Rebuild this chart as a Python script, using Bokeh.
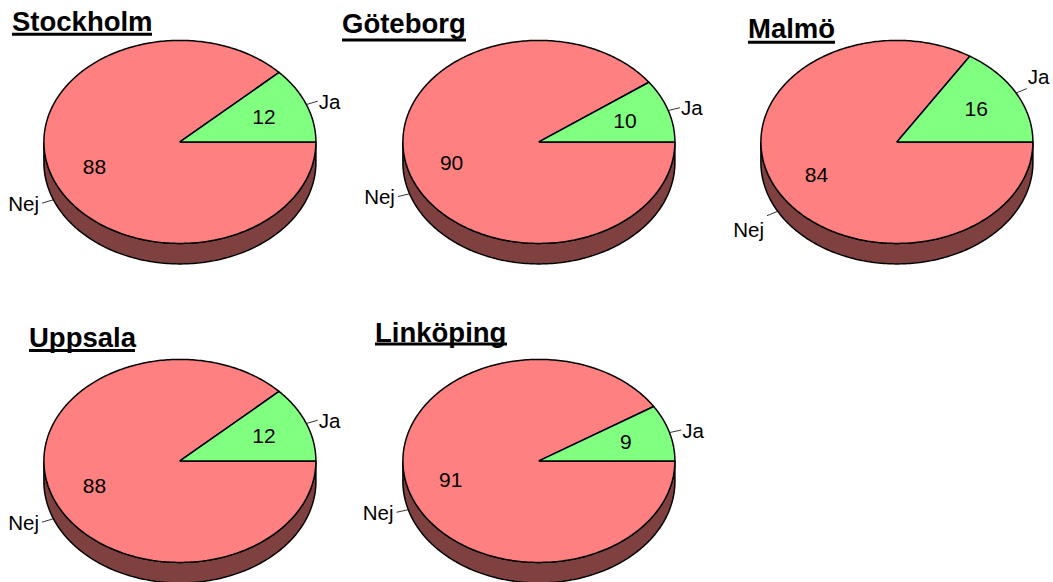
import numpy as np
from bokeh.plotting import figure
from bokeh.embed import file_html
from bokeh.resources import INLINE
from bokeh.core.properties import value

# Data
cities = ["Stockholm", "Göteborg", "Malmö", "Uppsala", "Linköping"]
ja_values = [12, 10, 16, 12, 9]
nej_values = [88, 90, 84, 88, 91]
slice_names = ["Ja", "Nej"]

# Layout (reference pixels)
centers_x = [179.4, 538.4, 896.4, 179.4, 538.4]
centers_y = [141.4, 141.4, 141.4, 460.4, 460.4]
title_x = [11.5, 341.5, 747.5, 28.5, 374.5]
title_w = [140, 124, 87, 106, 132]
title_base = [30, 32, 37, 346, 341]
underline_y = [33.7, 39.5, 41.7, 350, 343.5]
ja_dy = [0, 0, -12, 0, 0]
nej_dy = [0, 0, 14, 0, 0]
RX, RY, DEPTH = 136, 101.5, 20.5
WIDTH, HEIGHT = 1053, 582
RED, GREEN, DARK = "#FF8080", "#80FF80", "#7F4040"
FONT = value("Liberation Sans")

p = figure(width=WIDTH, height=HEIGHT, x_range=(0, WIDTH), y_range=(HEIGHT, 0),
           output_backend="svg", toolbar_location=None, min_border=0,
           x_axis_type="linear", y_axis_type="linear")
p.axis.visible = False
p.grid.visible = False
p.outline_line_color = None
p.background_fill_color = "white"


def arc(cx, cy, a0, a1, n=180):
    t = np.linspace(a0, a1, n)
    return cx + RX * np.cos(t), cy - RY * np.sin(t)


for i, city in enumerate(cities):
    cx, cy = centers_x[i], centers_y[i]
    total = ja_values[i] + nej_values[i]
    split = 2 * np.pi * ja_values[i] / total

    # side wall
    bx, by = arc(cx, cy, np.pi, 2 * np.pi)
    sx = np.concatenate([bx, bx[::-1]])
    sy = np.concatenate([by, by[::-1] + DEPTH])
    p.patch(sx, sy, fill_color=DARK, line_color="black", line_width=1.5)

    # top slices
    ax, ay = arc(cx, cy, split, 2 * np.pi, 360)
    p.patch(np.r_[cx, ax], np.r_[cy, ay], fill_color=RED, line_color="black", line_width=1.5)
    ax, ay = arc(cx, cy, 0, split, 90)
    p.patch(np.r_[cx, ax], np.r_[cy, ay], fill_color=GREEN, line_color="black", line_width=1.5)

    # labels
    mids = [split / 2, split + (2 * np.pi - split) / 2]
    vals = [ja_values[i], nej_values[i]]
    dys = [ja_dy[i], nej_dy[i]]
    for mid, val, name, dy in zip(mids, vals, slice_names, dys):
        c, s = np.cos(mid), np.sin(mid)
        r = 0.665 if c > 0 else 0.675
        p.text([cx + r * RX * c], [cy - r * RY * s], text=[str(val)],
               text_font=FONT, text_font_size="21px", text_color="black",
               text_align="center", text_baseline="middle")
        drop = DEPTH if s < 0 else 0
        x0, y0 = cx + RX * c, cy - RY * s + drop
        x1, y1 = cx + 1.09 * RX * c, cy - 1.09 * RY * s + drop
        p.line([x0, x1], [y0, y1], line_color="black", line_width=0.8)
        if c > 0:
            p.text([x1 + 1], [y1 + dy], text=[name], text_font=FONT, text_font_size="20.5px",
                   text_color="black", text_align="left", text_baseline="middle")
        else:
            p.text([x1 - 3], [y1 + dy], text=[name], text_font=FONT, text_font_size="20.5px",
                   text_color="black", text_align="right", text_baseline="middle")

    # title
    p.text([title_x[i]], [title_base[i] - 9], text=[city], text_font=FONT, text_font_size="27.5px",
           text_font_style="bold", text_color="black", text_align="left",
           text_baseline="middle")
    p.line([title_x[i], title_x[i] + title_w[i]], [underline_y[i]] * 2,
           line_color="black", line_width=3)

open("out.html", "w").write(file_html(p, INLINE))
